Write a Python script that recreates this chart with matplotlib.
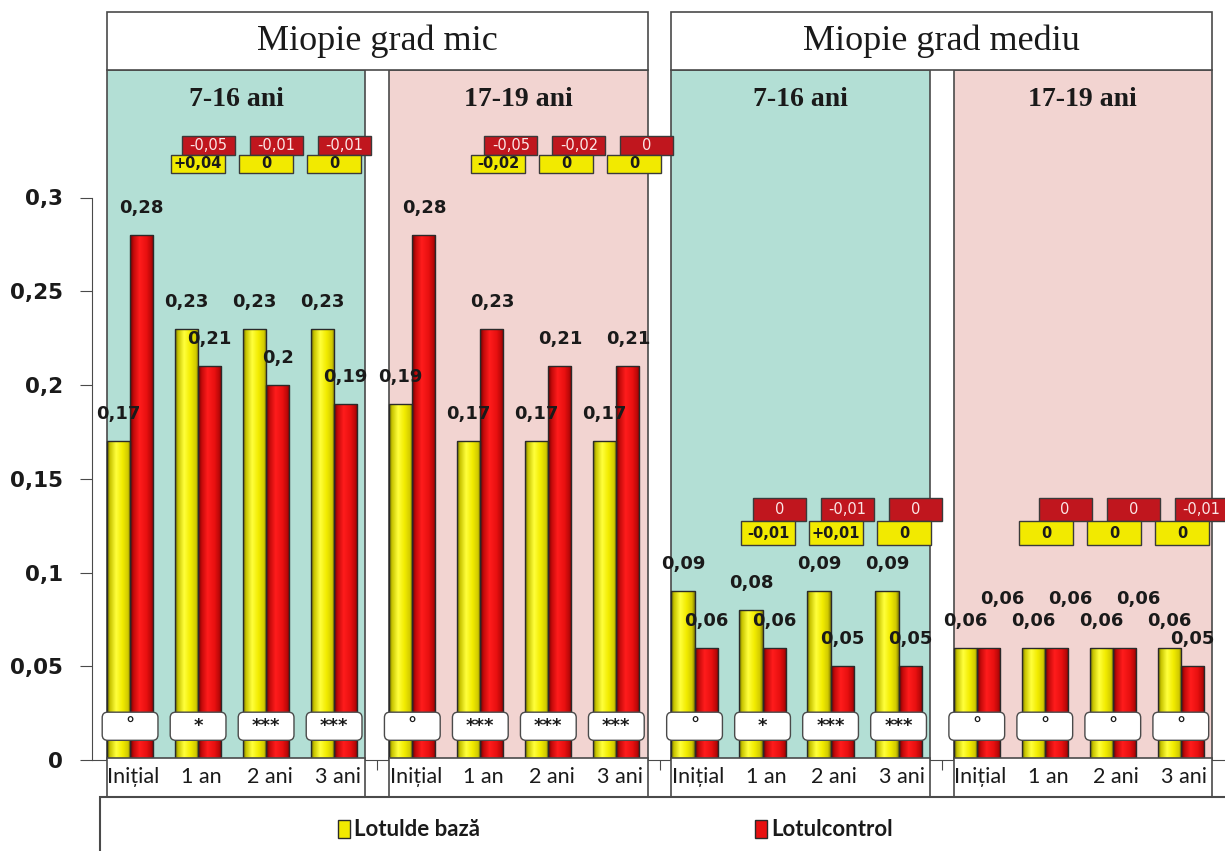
import numpy as np
import matplotlib.pyplot as plt
from matplotlib.patches import Rectangle, FancyBboxPatch
from matplotlib.colors import LinearSegmentedColormap

# data
categories = ['Inițial', '1 an', '2 ani', '3 ani']
groups = ['Miopie grad mic', 'Miopie grad mediu']
age_groups = ['7-16 ani', '17-19 ani', '7-16 ani', '17-19 ani']
series_names = ['Lotulde bază', 'Lotulcontrol']

baza = [
    [0.17, 0.23, 0.23, 0.23],
    [0.19, 0.17, 0.17, 0.17],
    [0.09, 0.08, 0.09, 0.09],
    [0.06, 0.06, 0.06, 0.06],
]
control = [
    [0.28, 0.21, 0.20, 0.19],
    [0.28, 0.23, 0.21, 0.21],
    [0.06, 0.06, 0.05, 0.05],
    [0.06, 0.06, 0.06, 0.05],
]
diff_baza = [
    ['+0,04', '0', '0'],
    ['-0,02', '0', '0'],
    ['-0,01', '+0,01', '0'],
    ['0', '0', '0'],
]
diff_control = [
    ['-0,05', '-0,01', '-0,01'],
    ['-0,05', '-0,02', '0'],
    ['0', '-0,01', '0'],
    ['0', '0', '-0,01'],
]
signif = [
    ['°', '*', '***', '***'],
    ['°', '***', '***', '***'],
    ['°', '*', '***', '***'],
    ['°', '°', '°', '°'],
]
yticks = [0, 0.05, 0.1, 0.15, 0.2, 0.25, 0.3]

# layout
step = 4.15
bw = 0.34
panel_l, panel_r = -0.34, 3.46
panel_bg = ['#b3dfd5', '#f2d4d1', '#b3dfd5', '#f2d4d1']
edge = '#4a4a4a'
yel_y = [0.318, 0.318, 0.121, 0.121]
red_y = [0.3278, 0.3278, 0.1335, 0.1335]
yel_shift = [0.0, 0.26, 0.08, 0.02]
red_shift = [0.15, 0.45, 0.25, 0.30]

yellow_cm = LinearSegmentedColormap.from_list('y', [
    (0, '#6b6b00'), (0.12, '#c8c400'), (0.38, '#ffff3c'),
    (0.65, '#f2ec00'), (0.88, '#d2cb00'), (1, '#858000')])
red_cm = LinearSegmentedColormap.from_list('r', [
    (0, '#6e0000'), (0.15, '#c40a0a'), (0.4, '#ff1c1c'),
    (0.7, '#e81010'), (0.9, '#b80808'), (1, '#760000')])

fig = plt.figure(figsize=(12.25, 8.51), dpi=100)
ax = fig.add_axes([92/1225, 91/851, 1133/1225, 750/851])

def fmt(v):
    return ('%g' % v).replace('.', ',')

grad = np.linspace(0, 1, 64).reshape(1, -1)

for p in range(4):
    base = p * step
    x = base + np.arange(4)
    ax.add_patch(Rectangle((base + panel_l, 0), panel_r - panel_l, 0.368,
                           fc=panel_bg[p], ec=edge, lw=1.2, zorder=0.5))
    ax.text(base + (panel_l + panel_r) / 2, 0.352, age_groups[p], ha='center', va='center',
            fontsize=20, fontweight='bold', family='Liberation Serif', color='#1a1a1a', zorder=8)

    for vals, off, cm in [(baza[p], -bw/2, yellow_cm), (control[p], bw/2, red_cm)]:
        bars = ax.bar(x + off, vals, width=bw, ec='#2a2a2a', lw=1.0, zorder=3)
        for b in bars:
            x0, y0 = b.get_xy()
            im = ax.imshow(grad, cmap=cm, extent=[x0, x0 + b.get_width(), y0, y0 + b.get_height()],
                           aspect='auto', zorder=2.5)
            im.set_clip_path(b)
            b.set_facecolor('none')

    # value labels; red label lifted when both bars are equal so they do not collide
    for i in range(4):
        yv, rv = baza[p][i], control[p][i]
        ax.text(x[i] - bw/2, yv + 0.0143, fmt(yv), ha='center', va='center', fontsize=13,
                fontweight='bold', color='#1a1a1a', zorder=5)
        lift = 0.0115 if yv == rv else 0
        ax.text(x[i] + bw/2 + (0.2 if lift else 0), rv + 0.0143 + lift, fmt(rv), ha='center',
                va='center', fontsize=13, fontweight='bold', color='#1a1a1a', zorder=5)

    # significance boxes
    for xi, s in zip(x, signif[p]):
        ax.add_patch(FancyBboxPatch((xi - 0.41, 0.0105), 0.82, 0.015,
                                    boxstyle='round,pad=0,rounding_size=0.08', mutation_aspect=0.0363,
                                    fc='white', ec=edge, lw=1.0, zorder=6))
        ax.text(xi, 0.018, s, ha='center', va='center', fontsize=13, fontweight='bold',
                color='#1a1a1a', zorder=7)

    # difference badges
    h = red_y[p] - yel_y[p]
    for k in range(3):
        xc = x[k + 1]
        xr = xc + red_shift[p]
        ax.add_patch(Rectangle((xr - 0.39, red_y[p] - h/2), 0.78, h, fc='#c0161e', ec='#3a3a3a',
                               lw=1.0, zorder=6, clip_on=False))
        ax.text(xr, red_y[p], diff_control[p][k], ha='center', va='center', fontsize=10.5,
                color='#fbe6e6', zorder=7, clip_on=False)
        xy = xc + yel_shift[p]
        ax.add_patch(Rectangle((xy - 0.4, yel_y[p] - h/2), 0.8, h, fc='#f2ea00', ec='#3a3a3a',
                               lw=1.0, zorder=6.5, clip_on=False))
        ax.text(xy, yel_y[p], diff_baza[p][k], ha='center', va='center', fontsize=10.5,
                fontweight='bold', color='#1a1a1a', zorder=7.5, clip_on=False)

    # category label box
    ax.add_patch(Rectangle((base + panel_l, -0.0195), panel_r - panel_l, 0.0205, fc='white',
                           ec=edge, lw=1.2, zorder=8, clip_on=False))
    for xi, c in zip(x, categories):
        ax.text(xi + 0.05, -0.0093, c, ha='center', va='center', fontsize=15.5,
                family=['Lato', 'DejaVu Sans'], color='#1a1a1a', zorder=9, clip_on=False)

# main headers
for g, name in enumerate(groups):
    left = 2 * g * step + panel_l
    right = (2 * g + 1) * step + panel_r
    ax.add_patch(Rectangle((left, 0.368), right - left, 0.031, fc='white', ec=edge,
                           lw=1.2, zorder=8, clip_on=False))
    ax.text((left + right) / 2, 0.3835, name, ha='center', va='center', fontsize=26,
            family='Liberation Serif', color='#1a1a1a', zorder=9)

# axes
ax.set_xlim(-0.56, 16.1)
ax.set_ylim(0, 0.4)
ax.set_facecolor('white')
for s in ['top', 'right']:
    ax.spines[s].set_visible(False)
ax.spines['left'].set_bounds(0, 0.3)
ax.spines['left'].set_color(edge)
ax.spines['bottom'].set_color(edge)
gaps = [(p * step + panel_r + (p + 1) * step + panel_l) / 2 for p in range(3)]
ax.set_xticks(gaps)
ax.set_xticklabels([])
ax.tick_params(axis='x', length=7, color=edge)
ax.set_yticks(yticks)
ax.set_yticklabels([fmt(t) for t in yticks], fontsize=15.5, fontweight='bold', color='#1a1a1a')
ax.tick_params(axis='y', length=9, pad=12, color=edge)

# legend
fig.patches.append(Rectangle((100/1225, -0.02), 1.0, 0.02 + 1 - 797/851, fc='white', ec=edge,
                             lw=1.5, transform=fig.transFigure, figure=fig))
ly = 1 - 829/851
for xpx, col, name in [(338, '#f2ea00', series_names[0]), (755, '#e81010', series_names[1])]:
    fig.patches.append(Rectangle((xpx/1225, ly - 9/851), 12/1225, 18/851, fc=col, ec='#2a2a2a',
                                 lw=1.0, transform=fig.transFigure, figure=fig))
    fig.text((xpx + 16)/1225, ly, name, ha='left', va='center', fontsize=16, fontweight='bold',
             family=['Lato', 'DejaVu Sans'], color='#1a1a1a')

fig.savefig('out.png', dpi=100)
